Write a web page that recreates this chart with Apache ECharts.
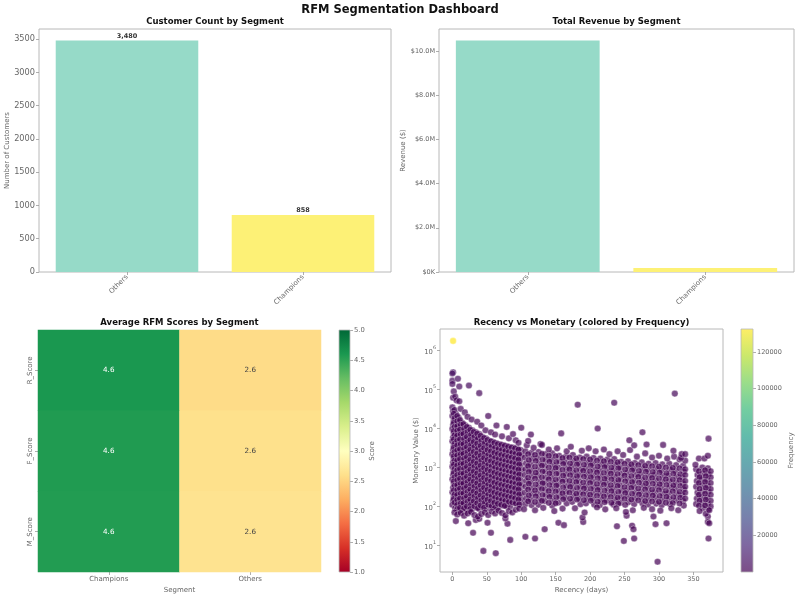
<!DOCTYPE html>
<html><head><meta charset="utf-8">
<script src="https://cdn.jsdelivr.net/npm/echarts@6/dist/echarts.min.js"></script>
<style>html,body{margin:0;padding:0;background:#fff}#c{width:800px;height:600px}</style>
</head><body><div id="c"></div><script>
// ---------- DATA ----------
const segments = ['Others', 'Champions'];
const customerCounts = [3480, 858];
const revenueTotals = [10470000, 180000];
const barColors = ['#96dac8', '#fdf176'];

const heatSegments = ['Champions', 'Others'];
const rfmScores = ['R_Score', 'F_Score', 'M_Score'];
const championsScores = [4.60, 4.57, 4.56];
const othersScores = [2.57, 2.61, 2.64];
const scoreTicks = [1, 1.5, 2, 2.5, 3, 3.5, 4, 4.5, 5];

const countTicks = [0, 500, 1000, 1500, 2000, 2500, 3000, 3500];
const revenueTicks = [0, 2000000, 4000000, 6000000, 8000000, 10000000];
const recencyTicks = [0, 50, 100, 150, 200, 250, 300, 350];
const monetaryTickExponents = [1, 2, 3, 4, 5, 6];
const frequencyTicks = [20000, 40000, 60000, 80000, 100000, 120000];

// [recency days, monetary value, frequency]
const scatterPoints = [
[0,35000,2100],[1,28000,1650],[0,21000,1200],[2,16000,980],[1,12500,760],[0,9800,610],[2,7600,430],[1,5900,390],[0,4700,310],[2,3600,240],[1,2800,180],[0,2200,150],[2,1700,120],[1,1350,95],[0,1050,80],[2,820,64],[1,640,52],[0,500,41],[2,390,33],[1,300,26],[0,230,20],[2,180,16],[1,140,12],[0,110,9],
[5,24000,1400],[4,17500,1100],[6,13000,820],[5,9500,590],[4,7000,470],[6,5200,350],[5,3900,260],[4,2900,200],[6,2150,160],[5,1600,118],[4,1200,90],[6,900,70],[5,680,55],[4,510,42],[6,380,31],[5,285,24],[4,215,18],[6,160,13],[5,120,10],[4,90,7],
[9,19000,1150],[10,14500,900],[8,11000,700],[9,8200,520],[10,6100,400],[8,4600,300],[9,3400,230],[10,2550,170],[8,1900,140],[9,1420,105],[10,1060,82],[8,790,60],[9,590,47],[10,440,36],[8,330,28],[9,245,21],[10,185,15],[8,138,11],[9,103,8],[10,80,6],
[14,14000,880],[13,10500,680],[15,7800,500],[14,5800,380],[13,4350,290],[15,3250,220],[14,2400,170],[13,1800,130],[15,1350,100],[14,1000,78],[13,750,58],[15,560,45],[14,420,34],[13,310,26],[15,235,19],[14,175,14],[13,130,10],[15,97,7],[14,78,5],
[19,12000,760],[18,9000,580],[20,6700,440],[19,5000,330],[18,3700,250],[20,2800,190],[19,2100,150],[18,1550,115],[20,1150,88],[19,860,66],[18,640,50],[20,480,38],[19,360,29],[18,270,22],[20,200,16],[19,150,12],[18,112,9],[20,85,6],
[24,10500,650],[25,7600,480],[23,5700,370],[24,4200,280],[25,3150,210],[23,2350,165],[24,1750,125],[25,1300,96],[23,970,74],[24,720,56],[25,540,43],[23,400,32],[24,300,24],[25,225,18],[23,168,13],[24,125,10],[25,93,7],[23,75,5],
[29,9000,560],[28,6600,420],[30,4900,320],[29,3650,240],[28,2700,185],[30,2000,145],[29,1500,110],[28,1120,84],[30,830,63],[29,620,48],[28,460,36],[30,345,27],[29,257,20],[28,190,15],[30,142,11],[29,106,8],[28,82,6],
[34,8000,500],[35,5800,370],[33,4300,280],[34,3200,215],[35,2400,165],[33,1780,125],[34,1330,96],[35,990,74],[33,740,56],[34,550,42],[35,410,32],[33,305,24],[34,228,17],[35,170,13],[33,126,9],[34,95,7],
[39,7200,450],[38,5300,340],[40,3900,260],[39,2900,195],[38,2150,150],[40,1600,115],[39,1190,88],[38,890,67],[40,660,50],[39,490,38],[38,365,28],[40,272,21],[39,203,15],[38,151,11],[40,113,8],[39,86,6],
[44,6000,380],[45,4400,290],[43,3300,220],[44,2450,170],[45,1830,130],[43,1360,98],[44,1010,75],[45,755,57],[43,560,43],[44,418,32],[45,311,24],[43,232,18],[44,173,13],[45,129,9],[43,96,7],
[49,5500,350],[48,4000,265],[50,3000,205],[49,2230,155],[48,1660,120],[50,1240,92],[49,920,70],[48,685,52],[50,510,39],[49,380,29],[48,283,22],[50,210,16],[49,157,12],[48,117,8],[50,88,6],
[54,4800,310],[55,3500,235],[53,2600,180],[54,1950,140],[55,1450,106],[53,1080,80],[54,800,61],[55,600,46],[53,445,34],[54,332,25],[55,247,19],[53,184,14],[54,137,10],[55,102,7],
[59,4500,290],[58,3300,220],[60,2450,170],[59,1820,130],[58,1360,99],[60,1010,75],[59,750,57],[58,560,43],[60,418,32],[59,311,24],[58,232,17],[60,172,13],[59,128,9],[58,95,7],
[64,4200,270],[65,3100,205],[63,2300,160],[64,1710,122],[65,1270,93],[63,950,70],[64,705,53],[65,525,40],[63,390,30],[64,290,22],[65,216,16],[63,161,12],[64,120,9],[65,89,6],
[69,3900,250],[68,2900,190],[70,2150,148],[69,1600,112],[68,1190,86],[70,885,65],[69,660,49],[68,490,37],[70,365,27],[69,272,20],[68,202,15],[70,150,11],[69,112,8],
[74,3700,235],[75,2750,180],[73,2050,140],[74,1520,106],[75,1130,81],[73,840,62],[74,625,47],[75,465,35],[73,346,26],[74,257,19],[75,191,14],[73,142,10],[74,106,7],
[79,3500,225],[78,2600,170],[80,1940,132],[79,1440,100],[78,1070,77],[80,800,58],[79,595,44],[78,443,33],[80,330,25],[79,245,18],[78,182,13],[80,136,10],[79,101,7],
[84,3300,210],[85,2450,160],[83,1830,125],[84,1360,94],[85,1010,72],[83,752,55],[84,560,41],[85,416,31],[83,310,23],[84,230,17],[85,171,12],[83,127,9],[84,98,7],
[89,3200,205],[88,2380,155],[90,1770,120],[89,1320,91],[88,980,70],[90,730,53],[89,543,40],[88,404,30],[90,300,22],[89,223,16],[88,166,12],[90,124,9],
[94,3000,190],[95,2230,145],[93,1660,112],[94,1240,86],[95,920,66],[93,685,50],[94,510,37],[95,380,28],[93,283,21],[94,210,15],[95,157,11],[93,117,8],
[99,2800,180],[100,2080,135],[98,1550,105],[99,1150,80],[100,858,61],[98,640,46],[99,475,35],[100,354,26],[98,264,19],[99,196,14],[100,146,10],[98,110,8],
[3,30000,1800],[2,24000,1400],[3,18500,1100],[2,14000,850],[3,11000,680],[2,8600,520],[3,6700,410],[2,5300,330],[3,4100,260],[2,3200,200],[3,2500,160],[2,1950,125],[3,1500,100],[2,1180,80],[3,920,62],[2,720,50],[3,560,40],[2,440,32],[3,340,26],[2,260,20],[3,200,15],[2,155,11],[3,125,9],
[7,21000,1250],[7,15500,950],[7,11500,700],[7,8800,540],[7,6600,410],[7,4900,310],[7,3700,240],[7,2750,180],[7,2050,140],[7,1520,108],[7,1130,84],[7,850,65],[7,640,50],[7,475,38],[7,355,28],[7,265,21],[7,198,15],[7,148,11],[7,110,8],[7,86,6],
[11,16500,1000],[12,12500,780],[11,9400,600],[12,7100,450],[11,5300,340],[12,4000,260],[11,2950,195],[12,2200,150],[11,1650,120],[12,1230,92],[11,920,70],[12,690,53],[11,515,40],[12,385,30],[11,288,22],[12,215,16],[11,160,12],[12,120,9],[11,92,7],
[16,13000,800],[17,9800,620],[16,7300,460],[17,5400,350],[16,4000,265],[17,3000,200],[16,2250,160],[17,1680,122],[16,1250,95],[17,930,72],[16,700,54],[17,520,41],[16,390,31],[17,290,23],[16,217,17],[17,162,12],[16,121,9],[17,90,7],
[21,11000,700],[22,8200,520],[21,6100,400],[22,4500,300],[21,3350,225],[22,2500,175],[21,1860,135],[22,1390,104],[21,1040,80],[22,775,60],[21,580,45],[22,430,34],[21,322,25],[22,240,18],[21,180,13],[22,134,10],[21,100,8],
[26,9300,580],[27,6900,440],[26,5100,340],[27,3800,255],[26,2850,195],[27,2120,150],[26,1580,118],[27,1180,90],[26,880,68],[27,655,51],[26,490,38],[27,365,28],[26,272,21],[27,203,15],[26,151,11],[27,112,8],[26,86,6],
[31,8200,520],[32,6100,390],[31,4550,300],[32,3400,225],[31,2530,175],[32,1890,135],[31,1410,105],[32,1050,80],[31,785,60],[32,585,45],[31,436,34],[32,325,25],[31,242,18],[32,181,13],[31,135,10],[32,101,7],
[36,7400,470],[37,5500,350],[36,4100,270],[37,3050,205],[36,2280,160],[37,1700,124],[36,1270,95],[37,945,72],[36,705,54],[37,525,40],[36,392,30],[37,292,22],[36,218,16],[37,162,12],[36,121,9],[37,91,7],
[41,6500,410],[42,4850,310],[41,3600,240],[42,2700,185],[41,2000,145],[42,1500,110],[41,1115,84],[42,830,63],[41,620,47],[42,462,35],[41,345,26],[42,257,19],[41,191,14],[42,143,10],[41,106,8],
[46,5700,360],[47,4250,280],[46,3150,215],[47,2350,165],[46,1750,128],[47,1300,98],[46,970,74],[47,725,55],[46,540,41],[47,402,31],[46,300,23],[47,223,17],[46,166,12],[47,124,9],[46,93,7],
[51,5100,330],[52,3800,255],[51,2820,195],[52,2100,150],[51,1570,115],[52,1170,88],[51,870,66],[52,650,49],[51,485,37],[52,360,27],[51,268,20],[52,200,15],[51,149,11],[52,111,8],
[56,4700,300],[57,3500,235],[56,2600,180],[57,1940,140],[56,1450,106],[57,1080,81],[56,800,61],[57,597,45],[56,445,34],[57,332,25],[56,247,18],[57,184,13],[56,137,10],[57,102,7],
[61,4300,280],[62,3200,215],[61,2380,165],[62,1770,128],[61,1320,97],[62,985,74],[61,733,55],[62,546,41],[61,407,31],[62,303,22],[61,226,16],[62,168,12],[61,125,9],[62,93,7],
[66,4000,260],[67,3000,200],[66,2230,155],[67,1660,120],[66,1235,91],[67,920,69],[66,685,52],[67,510,38],[66,380,28],[67,283,21],[66,211,15],[67,157,11],[66,117,8],
[71,3800,245],[72,2830,185],[71,2100,145],[72,1570,113],[71,1170,86],[72,870,65],[71,648,49],[72,482,36],[71,359,26],[72,267,19],[71,199,14],[72,148,10],[71,110,8],
[76,3600,230],[77,2680,175],[76,2000,138],[77,1490,107],[76,1110,81],[77,825,61],[76,615,46],[77,458,34],[76,341,25],[77,254,18],[76,189,13],[77,141,10],[76,104,7],
[81,3400,220],[82,2530,165],[81,1880,128],[82,1400,98],[81,1045,75],[82,778,57],[81,580,43],[82,432,32],[81,321,23],[82,239,17],[81,178,13],[82,132,9],
[86,3250,210],[87,2420,158],[86,1800,123],[87,1340,94],[86,1000,72],[87,745,55],[86,555,41],[87,413,30],[86,308,22],[87,229,16],[86,171,12],[87,127,9],
[91,3100,200],[92,2300,150],[91,1710,116],[92,1275,90],[91,950,68],[92,707,52],[91,527,39],[92,392,29],[91,292,21],[92,218,15],[91,162,11],[92,121,8],
[96,2900,185],[97,2160,140],[96,1610,110],[97,1200,84],[96,890,64],[97,663,48],[96,494,36],[97,368,27],[96,274,20],[97,204,14],[96,152,10],[97,113,8],
[106,2600,165],[105,1800,120],[107,1280,88],[106,900,64],[105,640,47],[107,450,34],[106,320,24],[105,225,17],[107,160,12],[106,115,8],
[115,2400,150],[116,1700,112],[114,1200,82],[115,850,60],[116,600,44],[114,425,31],[115,300,22],[116,212,16],[114,150,11],[115,108,8],
[125,2500,158],[124,1750,115],[126,1230,85],[125,870,62],[124,615,45],[126,435,32],[125,305,23],[124,215,16],[126,152,11],[125,110,8],
[135,2200,140],[136,1550,104],[134,1100,76],[135,780,56],[136,550,40],[134,390,29],[135,275,20],[136,195,14],[134,138,10],
[145,2300,146],[144,1620,108],[146,1150,79],[145,810,58],[144,575,42],[146,405,30],[145,285,21],[144,200,15],[146,142,10],[145,105,7],
[155,2000,128],[156,1420,95],[154,1000,70],[155,710,51],[156,500,37],[154,355,26],[155,250,18],[156,178,13],[154,126,9],
[165,1900,122],[164,1350,90],[166,950,66],[165,675,49],[164,475,35],[166,335,25],[165,238,17],[164,168,12],[166,120,8],
[175,2100,134],[176,1480,99],[174,1050,73],[175,740,53],[176,520,38],[174,370,27],[175,262,19],[176,185,13],[174,131,9],
[185,1800,116],[184,1280,86],[186,900,63],[185,640,46],[184,450,33],[186,320,23],[185,226,16],[184,160,11],[186,114,8],
[195,1900,122],[196,1340,90],[194,950,66],[195,670,48],[196,475,34],[194,336,24],[195,237,17],[196,168,12],[194,120,8],
[205,1750,112],[204,1240,83],[206,875,61],[205,620,45],[204,438,32],[206,310,22],[205,220,16],[204,155,11],[206,112,8],
[215,1700,109],[216,1200,80],[214,850,59],[215,600,43],[216,425,31],[214,300,22],[215,212,15],[216,150,10],[214,108,7],
[225,1600,103],[224,1130,76],[226,800,56],[225,565,41],[224,400,29],[226,283,20],[225,200,14],[224,142,10],
[235,1650,106],[236,1170,78],[234,830,58],[235,585,42],[236,415,30],[234,293,21],[235,207,15],[236,147,10],[234,110,8],
[245,1400,90],[244,990,66],[246,700,49],[245,495,36],[244,350,25],[246,248,18],[245,175,12],[244,124,9],
[255,1450,93],[256,1030,69],[254,730,51],[255,515,37],[256,365,26],[254,258,18],[255,182,13],[256,129,9],
[265,1300,84],[264,920,62],[266,650,45],[265,460,33],[264,325,23],[266,230,16],[265,163,11],[264,115,8],
[275,1350,87],[276,955,64],[274,675,47],[275,478,34],[276,338,24],[274,239,17],[275,169,12],[276,120,8],
[285,1250,80],[284,885,59],[286,625,44],[285,442,32],[284,313,22],[286,221,16],[285,156,11],[284,112,8],
[295,1300,84],[296,920,62],[294,650,45],[295,460,33],[296,325,23],[294,230,16],[295,163,11],[296,118,8],
[305,1200,77],[304,850,57],[306,600,42],[305,425,30],[304,300,21],[306,212,15],[305,150,10],[304,108,7],
[315,1250,80],[316,885,59],[314,625,44],[315,442,32],[316,313,22],[314,221,16],[315,156,11],[316,115,8],
[325,1150,74],[324,815,55],[326,575,40],[325,407,29],[324,288,20],[326,204,14],[325,144,10],
[335,1100,71],[336,780,52],[334,550,38],[335,390,28],[336,276,19],[334,195,14],[335,138,10],[336,105,7],
[354,900,58],[356,640,43],[355,450,32],[354,320,23],[356,226,16],[355,160,11],[354,115,8],
[363,1000,64],[364,700,47],[362,500,35],[363,350,25],[364,250,17],[362,175,12],[363,125,9],[364,90,6],
[371,950,61],[372,670,45],[370,475,33],[371,335,24],[372,240,17],[370,170,12],[371,120,8],[372,85,6],
[375,800,52],[375,560,38],[375,400,28],[375,280,20],[375,200,14],[375,140,10],[375,100,7],
[110,2200,140],[111,1550,105],[110,1090,77],[111,770,56],[110,545,40],[111,385,28],[110,272,20],[111,192,14],[110,136,10],
[120,2100,134],[121,1480,100],[120,1040,74],[121,735,53],[120,520,38],[121,367,26],[120,259,19],[121,183,13],[120,130,9],
[130,2250,143],[131,1590,107],[130,1120,79],[131,790,57],[130,560,41],[131,395,29],[130,279,20],[131,197,14],[130,140,10],
[140,2000,128],[141,1410,95],[140,1000,71],[141,705,51],[140,500,36],[141,353,26],[140,249,18],[141,176,12],[140,124,9],
[150,1950,125],[151,1380,93],[150,975,69],[151,690,50],[150,487,35],[151,344,25],[150,243,17],[151,172,12],[150,121,9],
[160,1750,112],[161,1240,84],[160,875,62],[161,620,45],[160,437,32],[161,309,22],[160,218,15],[161,154,11],
[170,1800,115],[171,1270,86],[170,900,64],[171,635,46],[170,449,33],[171,317,23],[170,224,16],[171,158,11],
[180,1700,109],[181,1200,81],[180,850,60],[181,600,43],[180,424,31],[181,300,21],[180,212,15],[181,150,10],
[190,1650,106],[191,1170,79],[190,825,58],[191,583,42],[190,412,30],[191,291,21],[190,206,15],[191,145,10],
[200,1600,103],[201,1130,76],[200,800,57],[201,565,41],[200,400,29],[201,283,20],[200,200,14],[201,141,10],
[210,1500,96],[211,1060,72],[210,750,53],[211,530,38],[210,375,27],[211,265,19],[210,187,13],[211,132,9],
[220,1450,93],[221,1025,69],[220,725,51],[221,512,37],[220,362,26],[221,256,18],[220,181,13],[221,128,9],
[230,1400,90],[231,990,67],[230,700,49],[231,495,36],[230,350,25],[231,247,18],[230,175,12],[231,124,9],
[240,1350,87],[241,955,64],[240,675,47],[241,477,34],[240,337,24],[241,238,17],[240,168,12],[241,119,8],
[250,1250,80],[251,885,59],[250,625,44],[251,442,32],[250,312,22],[251,221,16],[250,156,11],[251,110,8],
[260,1200,77],[261,850,57],[260,600,42],[261,424,30],[260,300,21],[261,212,15],[260,150,10],
[270,1150,74],[271,815,55],[270,575,40],[271,407,29],[270,288,20],[271,203,14],[270,144,10],
[280,1100,71],[281,780,52],[280,550,38],[281,390,28],[280,275,19],[281,195,14],[280,138,10],
[290,1080,69],[291,765,51],[290,540,38],[291,382,27],[290,270,19],[291,191,13],[290,135,9],
[300,1050,67],[301,745,50],[300,525,37],[301,372,26],[300,263,18],[301,186,13],[300,131,9],
[310,1000,64],[311,710,48],[310,500,35],[311,354,25],[310,250,17],[311,177,12],[310,125,9],
[320,980,63],[321,695,47],[320,490,34],[321,347,24],[320,245,17],[321,173,12],[320,122,9],
[330,950,61],[331,673,45],[330,475,33],[331,336,24],[330,237,16],[331,168,12],[330,119,8],
[338,900,58],[338,640,43],[338,450,32],[338,320,22],[338,226,16],[338,160,11],
[358,800,52],[359,565,38],[358,400,28],[359,283,20],[358,200,14],[359,141,10],[358,105,7],
[367,850,55],[368,600,41],[367,425,30],[368,300,21],[367,212,15],[368,150,10],[367,106,7],
[108,3700,230],[118,3200,200],[128,4000,250],[140,2900,180],[152,3100,195],[166,2600,165],[172,3400,215],[188,2700,170],[198,3100,195],[208,2600,165],[220,2900,180],[228,2200,140],[240,2600,165],[248,2100,135],[258,2800,175],[268,1900,120],[280,2300,145],[290,1800,115],[300,2000,128],[312,1700,108],[322,1900,120],[330,1600,102],[338,1500,96],[332,1750,112],
[12,32000,1900],[18,26000,1500],[22,20000,1250],[28,17000,1050],[36,15000,920],[42,12000,750],[48,9000,560],[56,8000,500],[62,7000,440],[72,6300,400],[82,5600,350],[88,7200,450],[92,5000,310],[96,4300,270],[110,4800,300],[130,3800,240],
[1,280000,5200],[0,260000,4800],[0,170000,3600],[0,140000,3100],[8,190000,3900],[10,120000,2800],[24,127000,2900],[39,81000,2200],[2,90000,2400],[1,62000,1900],[4,66000,2000],[6,53000,1700],[10,50000,1650],[52,21000,1100],[323,79000,2100],[235,46000,1500],[182,41000,1400],[211,10000,600],[100,10500,640],[64,12000,720],[79,11000,680],[276,8000,500],[257,5000,320],[282,3900,250],[306,3800,240],[264,3700,235],[158,7500,460],[114,7000,430],[372,5500,340],[321,2700,170],[333,2200,140],[338,2200,140],[353,1170,75],[358,1700,108],[366,1700,108],[371,2000,128],
[45,7.2,1],[63,6.3,1],[298,3.8,1],[84,13.8,2],[106,16.6,2],[120,15,2],[249,13,1],[264,15,2],[372,15,2],[134,26,3],[30,21,2],[56,21,2],[5,42,3],[34,45,4],[39,48,4],[23,37,3],[51,38,3],[80,36,3],[77,49,4],[154,38,3],[162,33,3],[190,40,3],[189,52,4],[239,31,3],[261,32,3],[263,26,2],[253,58,5],[292,55,5],[295,35,3],[311,37,3],[371,55,5],[371,40,3],[373,37,3],[368,65,5],[359,76,6],[373,80,6],
[3,70,6],[7,62,5],[12,68,5],[17,58,5],[22,66,5],[27,72,6],[32,60,5],[37,55,4],[42,64,5],[47,70,6],[52,60,5],[57,74,6],[62,66,5],[67,78,6],[72,68,5],[77,59,5],[82,76,6],[87,70,6],[92,82,7],[97,88,7],[104,85,7],[120,80,6],[132,92,7],[148,76,6],[160,88,7],[178,90,7],[192,70,6],[210,95,7],[222,84,7],[238,90,7],[252,72,6],[262,80,6],[278,92,7],[290,85,7],[302,78,6],[318,90,7],[328,80,6],
[1,1780000,132600]
];

// ---------- STYLE ----------
const FONT = 'DejaVu Sans';
const TXT = '#666';
const FRAME = '#b8b8b8';
const viridis = ['#440154','#482878','#3e4989','#31688e','#26828e','#1f9e89','#35b779','#6ece58','#b5de2b','#fde725'];
const viridisFaded = ['#7c4d87','#7f68a1','#7880ac','#6f95b0','#67a8b0','#62bbac','#72cda1','#9add8a','#cbe86b','#feee66'];
const rdylgn = ['#a50026','#d73027','#f46d43','#fdae61','#fee08b','#ffffbf','#d9ef8b','#a6d96a','#66bd63','#1a9850','#006837'];

const G = [
  {left: 39, top: 29, width: 352, height: 243},
  {left: 439, top: 29, width: 355, height: 243},
  {left: 38, top: 330, width: 283, height: 242},
  {left: 440, top: 329, width: 283, height: 243},
  {left: 339, top: 330, width: 11, height: 242},
  {left: 741, top: 329, width: 12, height: 243}
];

const tick = {show: true, length: 3, lineStyle: {color: '#999', width: 0.8}};
const noLine = {show: false, onZero: false};
const lab = {fontSize: 6.8, color: TXT, fontFamily: FONT, margin: 4};
const nameStyle = {fontSize: 7, color: TXT, fontFamily: FONT};
const plain = v => String(v);

function gradStops(cols) {
  const n = cols.length - 1;
  return cols.slice().reverse().map((c, i) => ({offset: i / n, color: c}));
}

const heatData = [];
rfmScores.forEach((s, yi) => {
  heatData.push({value: [0, yi, championsScores[yi]], label: {color: '#fff'}});
  heatData.push({value: [1, yi, othersScores[yi]], label: {color: '#444'}});
});

const chart = echarts.init(document.getElementById('c'), null, {renderer: 'canvas'});
chart.setOption({
  animation: false,
  backgroundColor: '#fff',
  textStyle: {fontFamily: FONT},
  grid: G.map((g, i) => Object.assign({containLabel: false, show: i === 0 || i === 1 || i === 3, borderColor: FRAME, borderWidth: 1, backgroundColor: 'transparent'}, g)),
  xAxis: [
    {gridIndex: 0, type: 'category', data: segments, axisLine: noLine, axisTick: Object.assign({alignWithLabel: true}, tick),
      axisLabel: Object.assign({}, lab, {rotate: 45, fontSize: 7})},
    {gridIndex: 1, type: 'category', data: segments, axisLine: noLine, axisTick: Object.assign({alignWithLabel: true}, tick),
      axisLabel: Object.assign({}, lab, {rotate: 45, fontSize: 7})},
    {gridIndex: 2, type: 'category', data: heatSegments, axisLine: noLine, axisTick: Object.assign({alignWithLabel: true}, tick),
      axisLabel: Object.assign({}, lab, {fontSize: 7}), name: 'Segment', nameLocation: 'middle', nameGap: 15, nameTextStyle: nameStyle},
    {gridIndex: 3, type: 'value', min: -18, max: 393, splitLine: {show: false}, axisLine: noLine,
      axisTick: Object.assign({customValues: recencyTicks}, tick), axisLabel: Object.assign({customValues: recencyTicks, formatter: plain}, lab, {fontSize: 6.5}),
      name: 'Recency (days)', nameLocation: 'middle', nameGap: 15, nameTextStyle: nameStyle},
    {gridIndex: 4, type: 'value', show: false, min: 0, max: 1},
    {gridIndex: 5, type: 'value', show: false, min: 0, max: 1}
  ],
  yAxis: [
    {gridIndex: 0, type: 'value', min: 0, max: 3654, splitLine: {show: false}, axisLine: noLine,
      axisTick: Object.assign({customValues: countTicks}, tick), axisLabel: Object.assign({customValues: countTicks, formatter: plain}, lab, {fontSize: 8.2}),
      name: 'Number of Customers', nameLocation: 'middle', nameGap: 26, nameTextStyle: nameStyle},
    {gridIndex: 1, type: 'value', min: 0, max: 10994000, splitLine: {show: false}, axisLine: noLine,
      axisTick: Object.assign({customValues: revenueTicks}, tick),
      axisLabel: Object.assign({customValues: revenueTicks, formatter: v => v === 0 ? '$0K' : '$' + (v / 1e6).toFixed(1) + 'M'}, lab, {fontSize: 6.5}),
      name: 'Revenue ($)', nameLocation: 'middle', nameGap: 32, nameTextStyle: nameStyle},
    {gridIndex: 2, type: 'category', data: rfmScores, inverse: true, axisLine: noLine,
      axisTick: Object.assign({alignWithLabel: true}, tick), axisLabel: Object.assign({}, lab, {rotate: 90, fontSize: 7})},
    {gridIndex: 3, type: 'value', min: Math.log10(2.07), max: Math.log10(3600000), splitLine: {show: false}, axisLine: noLine,
      axisTick: Object.assign({customValues: monetaryTickExponents}, tick),
      axisLabel: Object.assign({customValues: monetaryTickExponents, formatter: v => '{b|10}{s|' + Math.round(v) + '}',
        rich: {b: {fontSize: 6.8, color: TXT, lineHeight: 10, verticalAlign: 'bottom'}, s: {fontSize: 4.8, color: TXT, lineHeight: 5, verticalAlign: 'top'}}}, lab),
      name: 'Monetary Value ($)', nameLocation: 'middle', nameGap: 20, nameTextStyle: nameStyle},
    {gridIndex: 4, type: 'value', position: 'right', min: 1, max: 5, splitLine: {show: false}, axisLine: noLine,
      axisTick: Object.assign({customValues: scoreTicks}, tick),
      axisLabel: Object.assign({customValues: scoreTicks, formatter: v => v.toFixed(1)}, lab, {fontSize: 6.8}),
      name: 'Score', nameLocation: 'middle', nameGap: 19, nameTextStyle: nameStyle},
    {gridIndex: 5, type: 'value', position: 'right', min: 0, max: 132600, splitLine: {show: false}, axisLine: noLine,
      axisTick: Object.assign({customValues: frequencyTicks}, tick),
      axisLabel: Object.assign({customValues: frequencyTicks, formatter: plain}, lab, {fontSize: 6.5}),
      name: 'Frequency', nameLocation: 'middle', nameGap: 35, nameTextStyle: nameStyle}
  ],
  visualMap: [
    {show: false, type: 'continuous', seriesIndex: 2, dimension: 2, min: 1, max: 5, inRange: {color: rdylgn}},
    {show: false, type: 'continuous', seriesIndex: 3, dimension: 2, min: 1, max: 132600, inRange: {color: viridis}}
  ],
  series: [
    {type: 'bar', xAxisIndex: 0, yAxisIndex: 0, data: customerCounts, barWidth: '81%',
      itemStyle: {color: p => barColors[p.dataIndex]},
      label: {show: true, position: 'top', distance: 1, fontSize: 6.5, fontWeight: 'bold', color: '#333', fontFamily: FONT,
        formatter: p => p.value.toLocaleString('en-US')}},
    {type: 'bar', xAxisIndex: 1, yAxisIndex: 1, data: revenueTotals, barWidth: '81%',
      itemStyle: {color: p => barColors[p.dataIndex]}},
    {type: 'heatmap', xAxisIndex: 2, yAxisIndex: 2, data: heatData,
      label: {show: true, fontSize: 7.2, fontFamily: FONT, formatter: p => p.value[2].toFixed(1)},
      itemStyle: {borderWidth: 0}},
    {type: 'scatter', xAxisIndex: 3, yAxisIndex: 3, symbolSize: 6.6,
      data: scatterPoints.map(p => [p[0], Math.log10(p[1]), p[2]]),
      itemStyle: {opacity: 0.7, borderColor: '#fff', borderWidth: 0.5}}
  ],
  graphic: [
    {type: 'text', x: 400, y: 10, style: {text: 'RFM Segmentation Dashboard', fontSize: 11.5, fontWeight: 'bold', fontFamily: FONT, fill: '#111', align: 'center', verticalAlign: 'middle', textAlign: 'center', textVerticalAlign: 'middle'}},
    {type: 'text', x: 215, y: 22, style: {text: 'Customer Count by Segment', fontSize: 8.5, fontWeight: 'bold', fontFamily: FONT, fill: '#111', align: 'center', verticalAlign: 'middle', textAlign: 'center', textVerticalAlign: 'middle'}},
    {type: 'text', x: 616.5, y: 22, style: {text: 'Total Revenue by Segment', fontSize: 8.5, fontWeight: 'bold', fontFamily: FONT, fill: '#111', align: 'center', verticalAlign: 'middle', textAlign: 'center', textVerticalAlign: 'middle'}},
    {type: 'text', x: 179.5, y: 323, style: {text: 'Average RFM Scores by Segment', fontSize: 8.5, fontWeight: 'bold', fontFamily: FONT, fill: '#111', align: 'center', verticalAlign: 'middle', textAlign: 'center', textVerticalAlign: 'middle'}},
    {type: 'text', x: 581.5, y: 323, style: {text: 'Recency vs Monetary (colored by Frequency)', fontSize: 8.5, fontWeight: 'bold', fontFamily: FONT, fill: '#111', align: 'center', verticalAlign: 'middle', textAlign: 'center', textVerticalAlign: 'middle'}},
    {type: 'rect', shape: {x: 339, y: 330, width: 11, height: 242}, style: {fill: new echarts.graphic.LinearGradient(0, 0, 0, 1, gradStops(rdylgn)), stroke: FRAME, lineWidth: 0.8}, z: 10},
    {type: 'rect', shape: {x: 741, y: 329, width: 12, height: 243}, style: {fill: new echarts.graphic.LinearGradient(0, 0, 0, 1, gradStops(viridisFaded)), stroke: FRAME, lineWidth: 0.8}, z: 10}
  ]
});
</script></body></html>
